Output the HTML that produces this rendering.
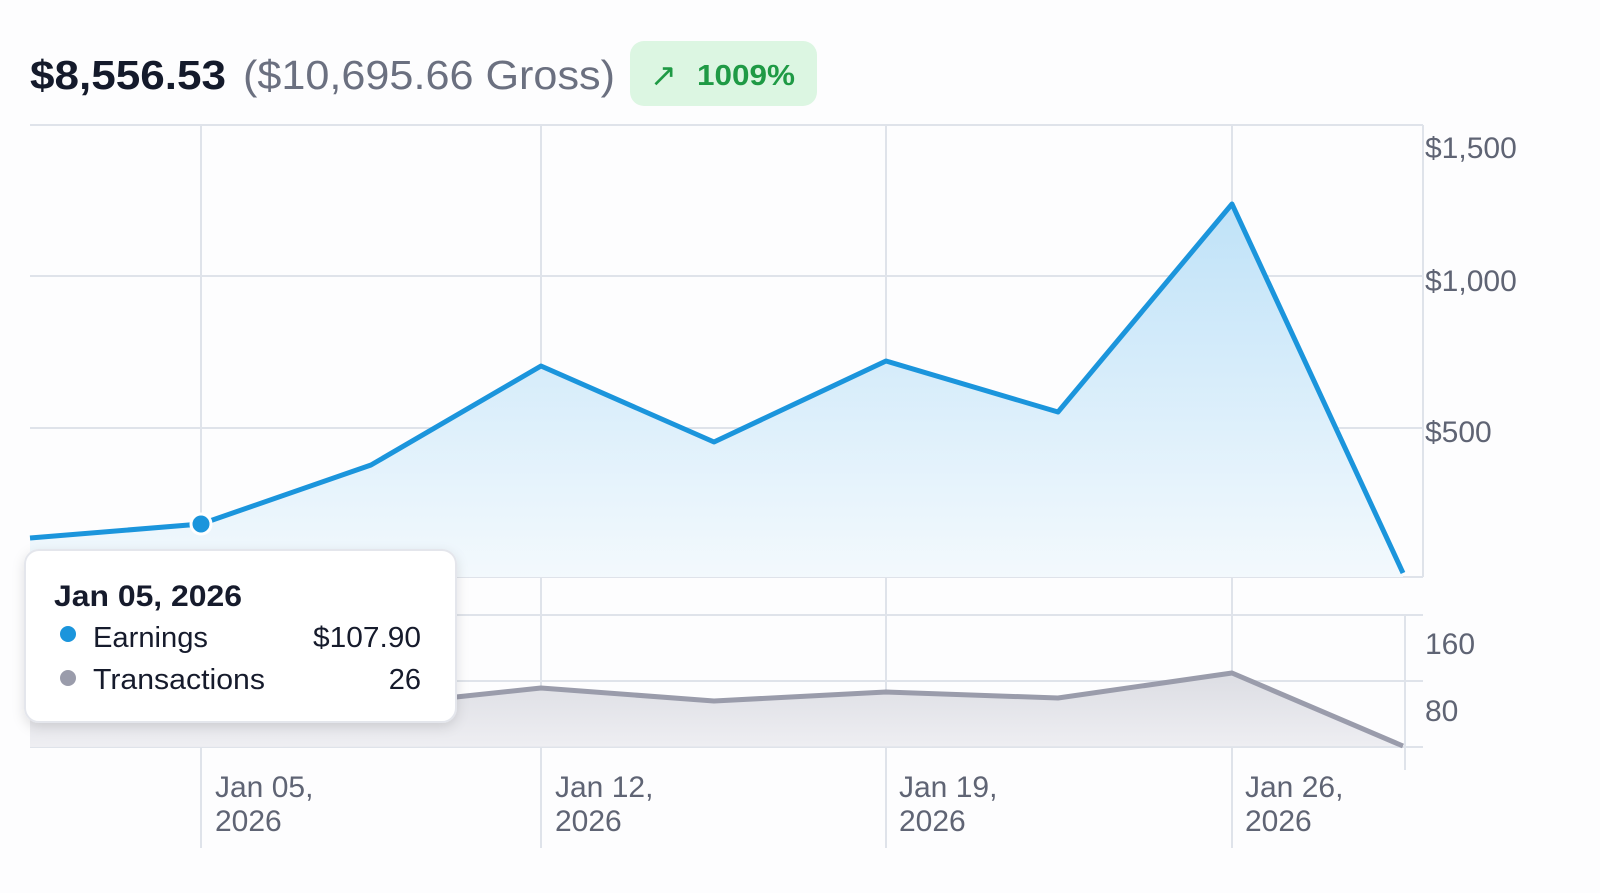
<!DOCTYPE html>
<html><head><meta charset="utf-8"><style>
html,body{margin:0;padding:0;background:#fdfdfe;width:1600px;height:893px;overflow:hidden;font-family:"Liberation Sans",sans-serif}
</style></head><body>
<svg width="1600" height="893" xmlns="http://www.w3.org/2000/svg" style="position:absolute;left:0;top:0">
<defs>
<linearGradient id="g1" x1="0" y1="0" x2="0" y2="1"><stop offset="0" stop-color="#bfe2f8"/><stop offset="1" stop-color="#f3f9fd"/></linearGradient>
<linearGradient id="g2" x1="0" y1="0" x2="0" y2="1"><stop offset="0" stop-color="#dcdde3"/><stop offset="1" stop-color="#eeeef2"/></linearGradient>
<filter id="sh" x="-10%" y="-10%" width="120%" height="130%"><feDropShadow dx="0" dy="4" stdDeviation="6" flood-color="#000" flood-opacity="0.12"/></filter>
</defs>
<text x="30" y="89" font-size="41" font-weight="bold" fill="#141a2b" textLength="196" lengthAdjust="spacingAndGlyphs">$8,556.53</text>
<text x="243" y="89" font-size="41" fill="#6b7080" textLength="372" lengthAdjust="spacingAndGlyphs">($10,695.66 Gross)</text>
<rect x="630" y="41" width="187" height="65" rx="14" fill="#dcf6e2"/>
<text x="650" y="86" font-size="32" fill="#1f9a45">↗</text>
<text x="697" y="85" font-size="29" font-weight="bold" fill="#1f9a45" textLength="98" lengthAdjust="spacingAndGlyphs">1009%</text>
<g stroke="#dfe3ea" stroke-width="2" fill="none">
<line x1="30" y1="125" x2="1423" y2="125"/><line x1="30" y1="276" x2="1423" y2="276"/><line x1="30" y1="428" x2="1423" y2="428"/><line x1="30" y1="577" x2="1423" y2="577"/>
<line x1="30" y1="615" x2="1423" y2="615"/><line x1="30" y1="681" x2="1423" y2="681"/><line x1="30" y1="747" x2="1423" y2="747"/>
<line x1="201" y1="125" x2="201" y2="848"/><line x1="541" y1="125" x2="541" y2="848"/><line x1="886" y1="125" x2="886" y2="848"/><line x1="1232" y1="125" x2="1232" y2="848"/>
<line x1="1423" y1="125" x2="1423" y2="577"/><line x1="1405" y1="615" x2="1405" y2="770"/>
</g>
<path d="M30,538 L201,524 371,465 541,366 714,442 886,361 1058,412 1232,204 1403,573 L1403,577 L30,577Z" fill="url(#g1)"/>
<polyline points="30,538 201,524 371,465 541,366 714,442 886,361 1058,412 1232,204 1403,573" fill="none" stroke="#1b95dc" stroke-width="5" stroke-linejoin="round"/>
<circle cx="201" cy="524" r="10" fill="#1b95dc" stroke="#fff" stroke-width="3"/>
<path d="M30,705 L201,702 456,697 541,688 714,701 886,692 1058,698 1232,673 1403,746 L30,747Z" fill="url(#g2)"/>
<polyline points="30,705 201,702 456,697 541,688 714,701 886,692 1058,698 1232,673 1403,746" fill="none" stroke="#9a9cab" stroke-width="5" stroke-linejoin="round"/>
<g font-size="30" fill="#5f6474">
<text x="1425" y="158">$1,500</text><text x="1425" y="291">$1,000</text><text x="1425" y="442">$500</text>
<text x="1425" y="654">160</text><text x="1425" y="721">80</text>
<text x="215" y="797">Jan 05,</text><text x="215" y="831">2026</text>
<text x="555" y="797">Jan 12,</text><text x="555" y="831">2026</text>
<text x="899" y="797">Jan 19,</text><text x="899" y="831">2026</text>
<text x="1245" y="797">Jan 26,</text><text x="1245" y="831">2026</text>
</g>
<rect x="25" y="550" width="431" height="172" rx="14" fill="#fff" stroke="#e4e6ec" stroke-width="2" filter="url(#sh)"/>
<text x="54" y="606" font-size="30" font-weight="bold" fill="#161b2c" textLength="188" lengthAdjust="spacingAndGlyphs">Jan 05, 2026</text>
<circle cx="68" cy="634" r="8" fill="#1b95dc"/>
<text x="93" y="647" font-size="29" fill="#161b2c" textLength="115" lengthAdjust="spacingAndGlyphs">Earnings</text>
<text x="313" y="647" font-size="29" fill="#161b2c" textLength="108" lengthAdjust="spacingAndGlyphs">$107.90</text>
<circle cx="68" cy="678" r="8" fill="#9a9cab"/>
<text x="93" y="689" font-size="29" fill="#161b2c" textLength="172" lengthAdjust="spacingAndGlyphs">Transactions</text>
<text x="421" y="689" font-size="29" fill="#161b2c" text-anchor="end">26</text>
</svg>
</body></html>
